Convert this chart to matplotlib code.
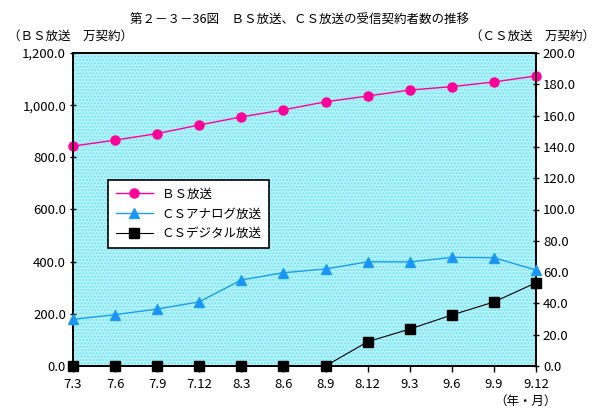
import numpy as np
import matplotlib.pyplot as plt
from matplotlib.ticker import FuncFormatter

plt.rcParams['font.family'] = ['Noto Sans CJK JP', 'DejaVu Sans']

periods = ['7.3', '7.6', '7.9', '7.12', '8.3', '8.6', '8.9', '8.12', '9.3', '9.6', '9.9', '9.12']
bs = [843, 866, 891, 924, 955, 982, 1013, 1035, 1058, 1071, 1089, 1112]
cs_analog = [29.8, 32.8, 36.4, 41.0, 55.0, 59.6, 62.0, 66.6, 66.5, 69.4, 69.2, 61.3]
cs_digital = [0, 0, 0, 0, 0, 0, 0, 15.5, 23.6, 32.6, 40.9, 53.2]

fig = plt.figure(figsize=(6, 4.2), dpi=100)
ax = fig.add_axes([73/600, 1 - 366/420, (536-73)/600, (366-53)/420])
ax2 = ax.twinx()

x = np.arange(len(periods))

# dotted cyan background
ax.set_facecolor('#B4F3FA')
ax.patch.set_hatch('.....')
ax.patch.set_edgecolor('#7AE3F0')
ax.patch.set_linewidth(0)

l1, = ax.plot(x, bs, color='#FF0099', marker='o', markersize=6.5, linewidth=1,
              label='ＢＳ放送', clip_on=False, zorder=5)
l2, = ax2.plot(x, cs_analog, color='#1A9FE8', marker='^', markersize=6.5, linewidth=1,
               markerfacecolor='#1E90FF', label='ＣＳアナログ放送', clip_on=False, zorder=5)
l3, = ax2.plot(x, cs_digital, color='black', marker='s', markersize=6.5, linewidth=0.8,
               label='ＣＳデジタル放送', clip_on=False, zorder=6)

ax.set_xlim(0, len(periods) - 1)
ax.set_ylim(0, 1200)
ax2.set_ylim(0, 200)
ax.set_yticks(np.arange(0, 1201, 200))
ax2.set_yticks(np.arange(0, 201, 20))
ax.yaxis.set_major_formatter(FuncFormatter(lambda v, p: f'{v:,.1f}'))
ax2.yaxis.set_major_formatter(FuncFormatter(lambda v, p: f'{v:.1f}'))
ax.set_xticks(x)
ax.set_xticklabels(periods)

for a in (ax, ax2):
    a.tick_params(labelsize=9.5, length=4, width=1, direction='inout', pad=3)
    for s in a.spines.values():
        s.set_linewidth(1.2)
ax.tick_params(axis='x', direction='out', length=4, pad=5)

ax.set_zorder(ax2.get_zorder() - 1)
ax2.patch.set_visible(False)
ax.patch.set_visible(True)

leg = ax2.legend(handles=[l1, l2, l3], loc='upper left',
                 bbox_to_anchor=((108-73)/463, (366-180)/313), borderaxespad=0,
                 fontsize=9, frameon=True, fancybox=False, edgecolor='black',
                 borderpad=0.6, labelspacing=0.55, handlelength=3.0, handletextpad=0.7)
leg.get_frame().set_linewidth(1.2)
leg.get_frame().set_facecolor('white')
leg.get_frame().set_alpha(1)

fig.text(0.5, 1 - 20/420, '第２－３－36図　ＢＳ放送、ＣＳ放送の受信契約者数の推移',
         ha='center', va='center', fontsize=9)
fig.text(8/600, 1 - 36/420, '（ＢＳ放送　万契約）', ha='left', va='center', fontsize=9)
fig.text(595/600, 1 - 36/420, '（ＣＳ放送　万契約）', ha='right', va='center', fontsize=9)
fig.text(557/600, 1 - 401/420, '（年・月）', ha='right', va='center', fontsize=9)

fig.savefig('out.png', dpi=100)
